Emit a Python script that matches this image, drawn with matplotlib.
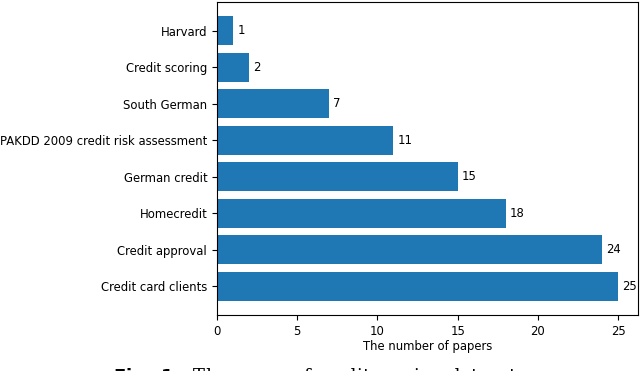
import matplotlib
matplotlib.use("Agg")
import matplotlib.pyplot as plt

datasets = ["Credit card clients", "Credit approval", "Homecredit", "German credit",
            "PAKDD 2009 credit risk assessment", "South German", "Credit scoring", "Harvard"]
papers = [25, 24, 18, 15, 11, 7, 2, 1]

fs = 8.4
fig = plt.figure(figsize=(6.4, 3.71), dpi=100)
ax = fig.add_axes([0.339, 0.151, 0.658, 0.844])
bars = ax.barh(datasets, papers, color="#1f77b4")
ax.bar_label(bars, padding=3, fontsize=fs)
ax.set_xlim(0, 26.25)
ax.set_xticks([0, 5, 10, 15, 20, 25])
ax.set_xlabel("The number of papers", fontsize=fs, labelpad=1.5)
ax.tick_params(labelsize=fs)

fig.text(0.5, 0.014, r"$\mathbf{Fig.\ 1:}$ The usage of credit scoring datasets",
         ha="center", va="top", fontsize=13, family="DejaVu Serif")

fig.savefig("out.png", dpi=100)
